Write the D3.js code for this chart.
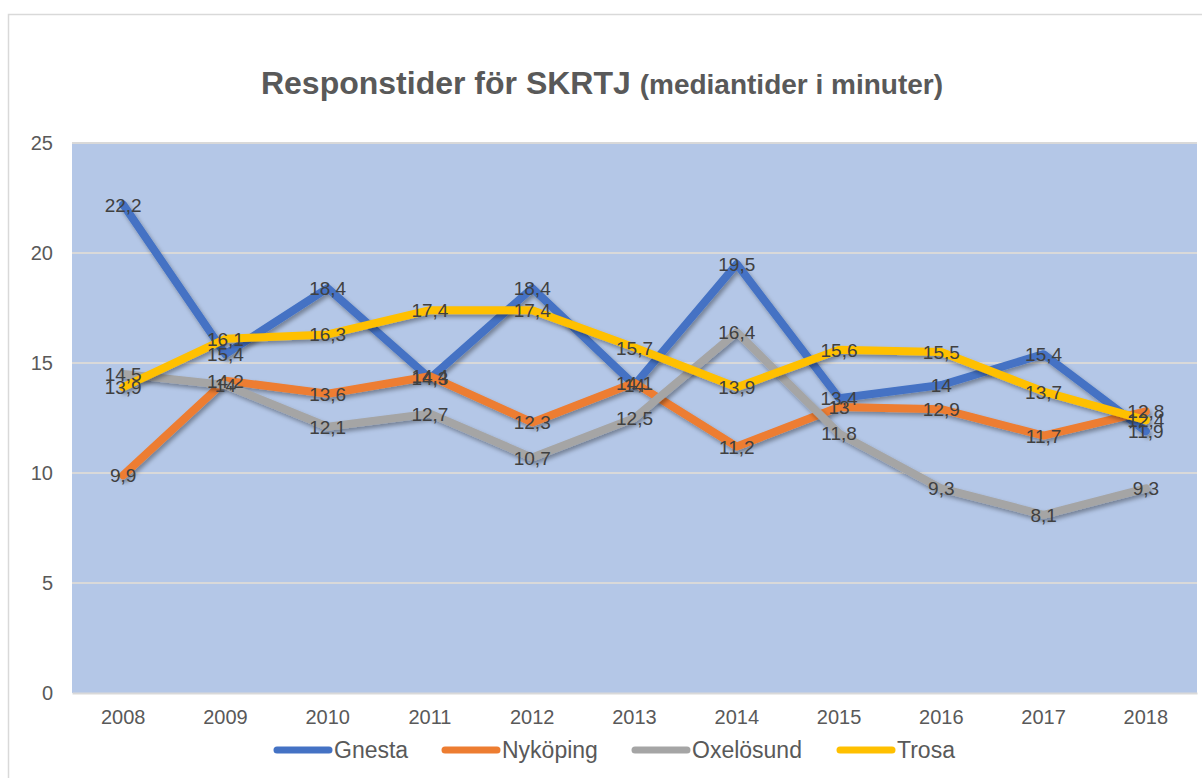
<!DOCTYPE html>
<html>
<head>
<meta charset="utf-8">
<script src="https://cdn.jsdelivr.net/npm/d3@7"></script>
<style>
  body { margin: 0; background: #fff; }
  text { font-family: "Liberation Sans", Arial, sans-serif; }
</style>
</head>
<body>
<div id="grafico"></div>
<script>
const years = [2008, 2009, 2010, 2011, 2012, 2013, 2014, 2015, 2016, 2017, 2018]
const gnesta = [22.2, 15.4, 18.4, 14.3, 18.4, 14, 19.5, 13.4, 14, 15.4, 11.9]
const nykoping = [9.9, 14.2, 13.6, 14.4, 12.3, 14.1, 11.2, 13, 12.9, 11.7, 12.8]
const oxelosund = [14.5, 14, 12.1, 12.7, 10.7, 12.5, 16.4, 11.8, 9.3, 8.1, 9.3]
const trosa = [13.9, 16.1, 16.3, 17.4, 17.4, 15.7, 13.9, 15.6, 15.5, 13.7, 12.4]
const seriesNames = ["Gnesta", "Nyköping", "Oxelösund", "Trosa"]
const yTicks = [0, 5, 10, 15, 20, 25]

const series = [
  {name: seriesNames[0], values: gnesta, color: "#4472c4"},
  {name: seriesNames[1], values: nykoping, color: "#ed7d31"},
  {name: seriesNames[2], values: oxelosund, color: "#a5a5a5"},
  {name: seriesNames[3], values: trosa, color: "#ffc000"}
]

const W = 1202, H = 778
const margin = {top: 143, right: 5, bottom: 85, left: 72}
const width = W - margin.left - margin.right,
      height = H - margin.top - margin.bottom

const root = d3.select("#grafico").append("svg")
  .attr("width", W).attr("height", H)

// skugga for linjerna
const defs = root.append("defs")
const f = defs.append("filter").attr("id", "shadow")
  .attr("x", "-5%").attr("y", "-5%").attr("width", "110%").attr("height", "115%")
f.append("feDropShadow").attr("dx", 2).attr("dy", 3).attr("stdDeviation", 2)
  .attr("flood-color", "#000").attr("flood-opacity", 0.35)

// ram
root.append("rect")
  .attr("x", 8.5).attr("y", 14.5).attr("width", W).attr("height", H)
  .attr("fill", "#fff").attr("stroke", "#d9d9d9").attr("stroke-width", 1.5)

// titel
const title = root.append("text")
  .attr("x", 602).attr("y", 94)
  .attr("text-anchor", "middle")
  .attr("fill", "#595959")
  .attr("font-weight", "bold")
title.append("tspan").attr("font-size", "32px").text("Responstider för SKRTJ ")
title.append("tspan").attr("font-size", "28px").text("(mediantider i minuter)")

const svg = root.append("g")
  .attr("transform", `translate(${margin.left},${margin.top})`)

const x = d3.scaleBand().domain(years).range([0, width])
const y = d3.scaleLinear().domain([0, 25]).range([height, 0])
const cx = d => x(d) + x.bandwidth() / 2

svg.append("rect")
  .attr("width", width).attr("height", height)
  .attr("fill", "#b4c7e7")

// rutnät
svg.append("g")
  .selectAll("line")
  .data(yTicks.slice(1))
  .join("line")
  .attr("x1", 0).attr("x2", width)
  .attr("y1", d => y(d)).attr("y2", d => y(d))
  .attr("stroke", "#d9d9d9").attr("stroke-width", 2)

// y-axel
const yAxis = svg.append("g")
  .call(d3.axisLeft(y).tickValues(yTicks).tickSize(0).tickPadding(19))
yAxis.select(".domain").remove()
yAxis.selectAll("text").attr("font-size", "20px").attr("fill", "#595959")
  .style("font-family", "Liberation Sans, Arial, sans-serif")

// x-axel
const xAxis = svg.append("g")
  .attr("transform", `translate(0,${height})`)
  .call(d3.axisBottom(x).tickSize(0).tickPadding(17))
xAxis.select(".domain").attr("stroke", "#d9d9d9").attr("stroke-width", 2)
xAxis.selectAll("text").attr("font-size", "20px").attr("fill", "#595959")
  .style("font-family", "Liberation Sans, Arial, sans-serif")

// linjer
const line = d3.line()
  .x((d, i) => cx(years[i]))
  .y(d => y(d))

svg.append("g")
  .selectAll("path")
  .data(series)
  .join("path")
  .attr("d", d => line(d.values))
  .attr("fill", "none")
  .attr("stroke", d => d.color)
  .attr("stroke-width", 8)
  .attr("stroke-linejoin", "round")
  .attr("stroke-linecap", "round")
  .attr("filter", "url(#shadow)")

// dataetiketter
const fmt = v => String(v).replace(".", ",")
series.forEach(s => {
  svg.append("g")
    .selectAll("text")
    .data(s.values)
    .join("text")
    .attr("x", (d, i) => cx(years[i]))
    .attr("y", d => y(d) + 7)
    .attr("text-anchor", "middle")
    .attr("font-size", "19px")
    .attr("fill", "#404040")
    .text(fmt)
})

// legend
const legend = root.append("g").attr("transform", "translate(0,750)")
const lx = [274, 442, 632, 837]
series.forEach((s, i) => {
  const g = legend.append("g").attr("transform", `translate(${lx[i]},0)`)
  g.append("line").attr("x1", 3).attr("x2", 55).attr("y1", 0).attr("y2", 0)
    .attr("stroke", s.color).attr("stroke-width", 7).attr("stroke-linecap", "round")
  g.append("text").attr("x", 60).attr("y", 8)
    .attr("font-size", "23px").attr("fill", "#595959").text(s.name)
})
</script>
</body>
</html>
